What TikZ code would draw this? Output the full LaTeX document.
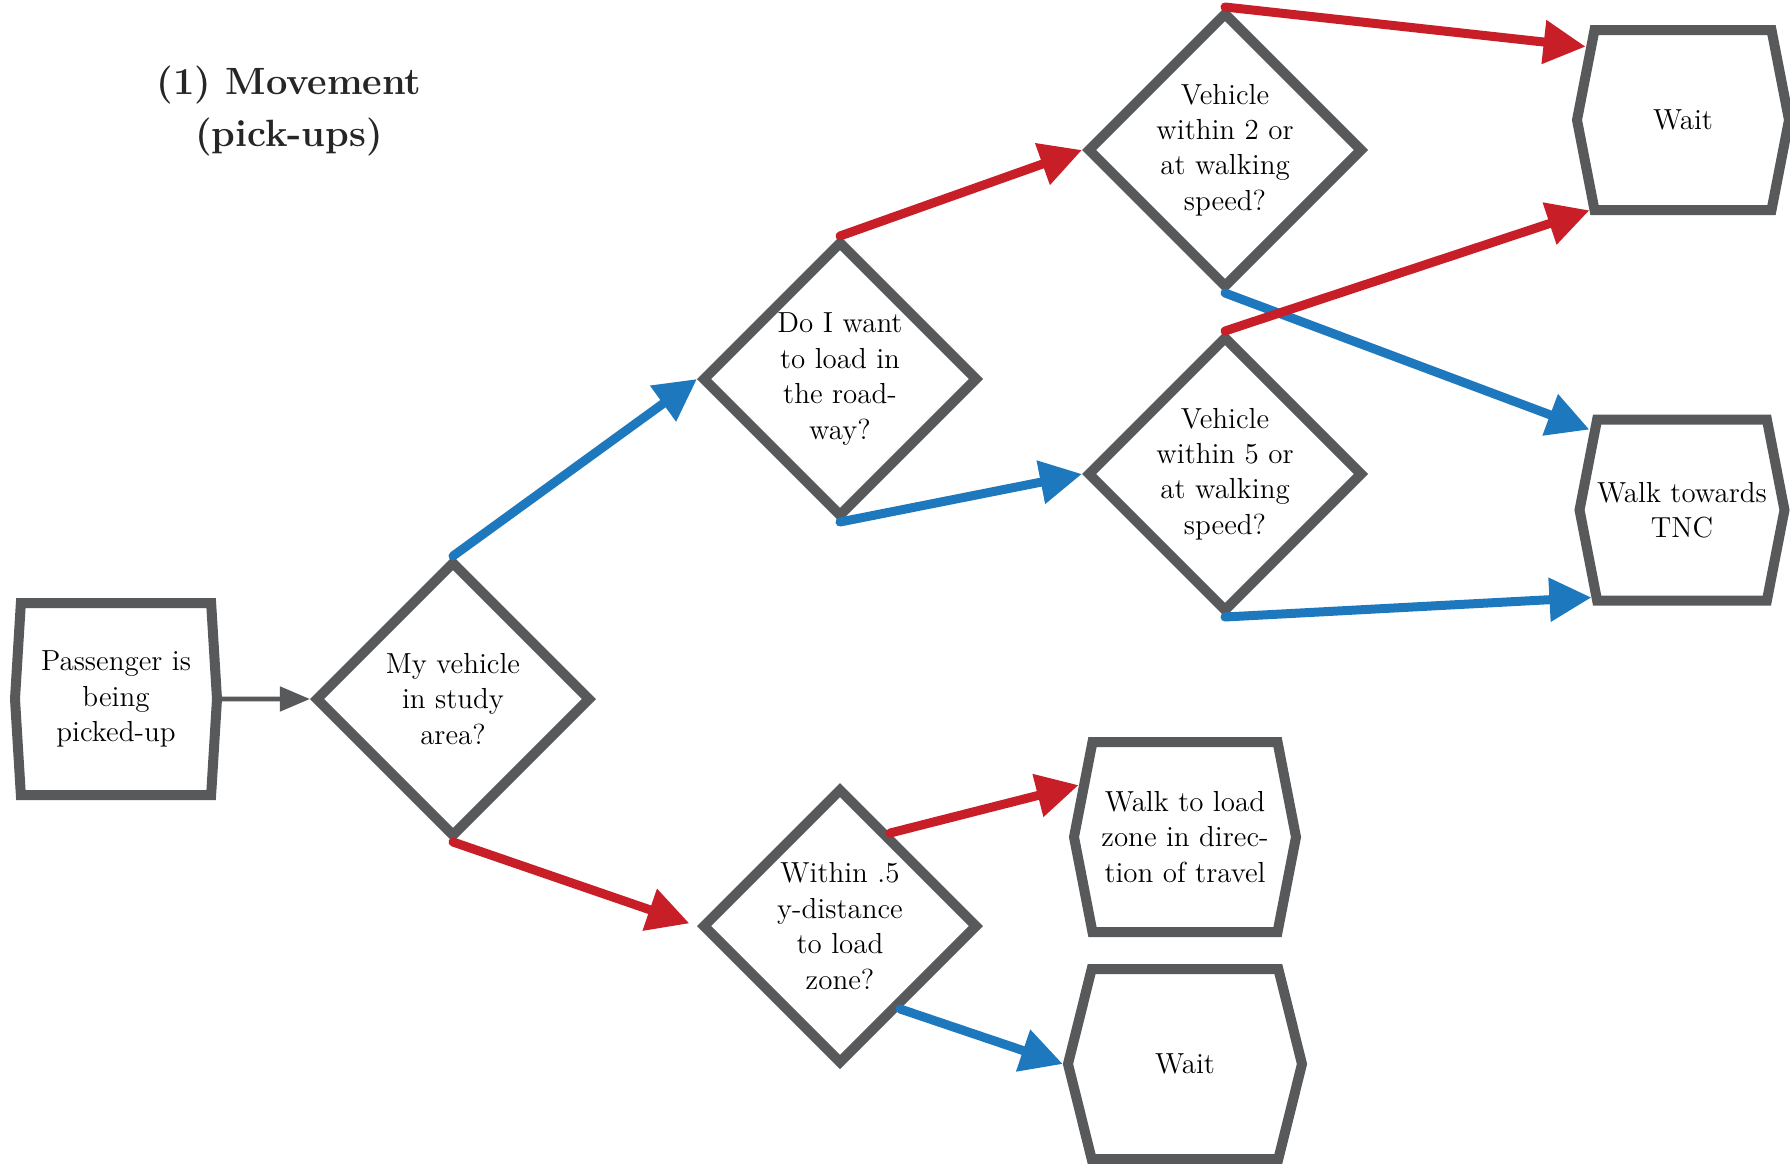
\documentclass[tikz,border=0pt]{standalone}
\usepackage{tikz}
\usetikzlibrary{shapes.geometric,shapes.symbols,arrows.meta,calc}

\definecolor{flowGray}{RGB}{88,89,91}
\definecolor{flowRed}{RGB}{200,30,40}
\definecolor{flowBlue}{RGB}{30,120,190}
\newcommand{\bodyFont}{\fontsize{14.5}{17.7}\selectfont}
\newcommand{\titleFont}{\fontsize{19}{25.7}\selectfont\bfseries}

\begin{document}
\begin{tikzpicture}[%%
  x=0.5pt,y=-0.5pt,%%
  decisionStyle/.style={diamond,draw=flowGray,line width=5pt,fill=white,%%
    inner sep=0pt,align=center,minimum width=138pt,minimum height=138pt,font=\bodyFont},%%
  stateStyle/.style={signal,signal to=west and east,signal pointer angle=#1,%%
    draw=flowGray,line width=5pt,fill=white,inner sep=0pt,align=center,font=\bodyFont},%%
  stateStyle/.default=158,%%
  arrowStyle/.style={-{Triangle[length=21pt,width=21pt]},line width=4.5pt,line cap=round},%%
  redArrowStyle/.style={arrowStyle,draw=flowRed,fill=flowRed},%%
  blueArrowStyle/.style={arrowStyle,draw=flowBlue,fill=flowBlue},%%
  grayArrowStyle/.style={-{Triangle[length=15pt,width=12pt]},line width=2.4pt,draw=flowGray,fill=flowGray}%%
]
%%
\useasboundingbox (0,0) rectangle (1790,1163);
%%
%% Title.
\node[align=center,font=\titleFont,text=black!85] (title) at (289,111) {(1) Movement\\(pick-ups)};
%%
%% Start and decisions.
\node[stateStyle=173,minimum width=101pt,minimum height=96pt] (start) at (116,699) {Passenger is\\being\\picked-up};
\node[decisionStyle] (myVehicle) at (453,699) {My vehicle\\in study\\area?};
\node[decisionStyle] (loadRoad) at (840,379) {Do I want\\to load in\\the road-\\way?};
\node[decisionStyle] (within2) at (1225,150) {Vehicle\\within 2 or\\at walking\\speed?};
\node[decisionStyle] (within5) at (1225,474) {Vehicle\\within 5 or\\at walking\\speed?};
\node[decisionStyle] (withinHalf) at (840,926) {Within .5\\y-distance\\to load\\zone?};
%%
%% Outcomes.
\node[stateStyle,minimum width=106pt,minimum height=90pt] (waitTop) at (1683,120) {Wait};
\node[stateStyle,minimum width=102pt,minimum height=90.5pt] (walkTNC) at (1682,510) {Walk towards\\TNC};
\node[stateStyle,minimum width=111pt,minimum height=95pt] (walkLoad) at (1185,837) {Walk to load\\zone in direc-\\tion of travel};
\node[stateStyle=152,minimum width=117pt,minimum height=95pt] (waitBottom) at (1185,1064) {Wait};
%%
%% Connectors.
\draw[grayArrowStyle] (start) -- (myVehicle);
\draw[blueArrowStyle] (myVehicle.north) -- (loadRoad.west);
\draw[redArrowStyle,shorten >=4pt] (myVehicle.south) -- (withinHalf.west);
\draw[redArrowStyle] (loadRoad.north) -- (within2.west);
\draw[blueArrowStyle] (loadRoad.south) -- (within5.west);
\draw[redArrowStyle] (within2.north) -- (waitTop.143);
\draw[blueArrowStyle] (within2.south) -- (walkTNC.139);
\draw[redArrowStyle] (within5.north) -- (waitTop.224);
\draw[blueArrowStyle] (within5.south) -- (walkTNC.224);
\draw[redArrowStyle] ($(withinHalf.north)!0.35!(withinHalf.east)$) -- (walkLoad.154);
\draw[blueArrowStyle] ($(withinHalf.east)!0.58!(withinHalf.south)$) -- (waitBottom.west);
\end{tikzpicture}
\end{document}
